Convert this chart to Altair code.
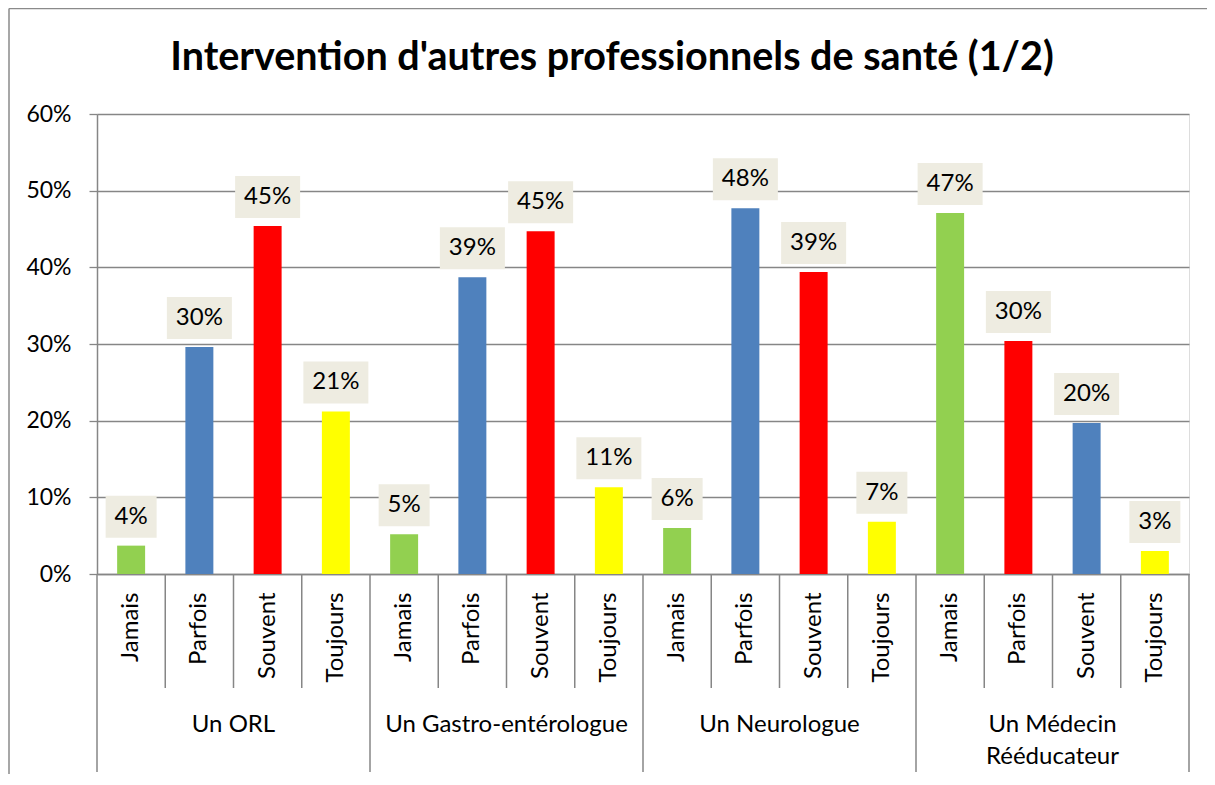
import altair as alt
import pandas as pd

# ---- data ----
groupes = ["Un ORL", "Un Gastro-entérologue", "Un Neurologue", "Un Médecin\nRééducateur"]
reponses = ["Jamais", "Parfois", "Souvent", "Toujours"]
valeurs_orl = [3.7, 29.6, 45.4, 21.2]
valeurs_gastro = [5.2, 38.7, 44.7, 11.3]
valeurs_neuro = [6.0, 47.7, 39.4, 6.8]
valeurs_medecin = [47.1, 30.4, 19.7, 3.0]
series_orl = ["vert", "bleu", "rouge", "jaune"]
series_gastro = ["vert", "bleu", "rouge", "jaune"]
series_neuro = ["vert", "bleu", "rouge", "jaune"]
series_medecin = ["vert", "rouge", "bleu", "jaune"]
graduations = [0, 10, 20, 30, 40, 50, 60]
titre = "Intervention d'autres professionnels de santé (1/2)"

rows = []
for g, vals, sers in zip(
    groupes,
    [valeurs_orl, valeurs_gastro, valeurs_neuro, valeurs_medecin],
    [series_orl, series_gastro, series_neuro, series_medecin],
):
    for r, v, s in zip(reponses, vals, sers):
        rows.append({"groupe": g, "reponse": r, "cle": g + "|" + r, "valeur": v, "serie": s})
df = pd.DataFrame(rows)
ordre = list(df["cle"])

FONT = "Lato"
GRIS = "#868686"
W, H = 1092, 460

xscale = alt.Scale(paddingInner=0, paddingOuter=0)
x_axis = alt.Axis(
    title=None,
    labelExpr="split(datum.label, '|')[1]",
    labelAngle=-90,
    ticks=False,
    labelPadding=18,
    labelFont=FONT,
    labelFontSize=24,
    labelColor="#000000",
    domainColor=GRIS,
    domainWidth=1.5,
    grid=False,
    labelLimit=0,
)
x = alt.X("cle:N", sort=ordre, scale=xscale, axis=x_axis)
y = alt.Y(
    "valeur:Q",
    scale=alt.Scale(domain=[0, 60], nice=False),
    axis=alt.Axis(
        title=None,
        values=graduations,
        labelExpr="datum.value + '%'",
        grid=True,
        gridColor=GRIS,
        gridWidth=1.3,
        tickSize=8,
        tickColor=GRIS,
        tickWidth=1.3,
        domainColor=GRIS,
        domainWidth=1.5,
        labelPadding=18,
        labelFont=FONT,
        labelFontSize=23,
        labelColor="#000000",
    ),
)

base = alt.Chart(df)

bars = base.mark_bar(width=alt.RelativeBandSize(0.41)).encode(
    x=x,
    y=y,
    color=alt.Color(
        "serie:N",
        scale=alt.Scale(
            domain=["vert", "bleu", "rouge", "jaune"],
            range=["#92D050", "#4F81BD", "#FF0000", "#FFFF00"],
        ),
        legend=None,
    ),
)

etiq = base.transform_calculate(
    etiquette="round(datum.valeur) + '%'",
    forme="length(round(datum.valeur) + '%') < 3 ? 'M-1.214,-2.381H1.214V-0.381H-1.214Z' : 'M-1.548,-2.381H1.548V-0.381H-1.548Z'",
)

boites = etiq.mark_point(filled=True, size=1764, color="#EEECE1", opacity=1, strokeWidth=0).encode(
    x=x, y=y, shape=alt.Shape("forme:N", scale=None)
)

textes = etiq.mark_text(dy=-29, font=FONT, fontSize=24, color="#000000", baseline="middle", align="center").encode(
    x=x, y=y, text="etiquette:N"
)

sep_interne = base.transform_filter("datum.reponse != 'Jamais'").mark_rule(color=GRIS, strokeWidth=1.5).encode(
    x=alt.X("cle:N", sort=ordre, scale=xscale, axis=x_axis, bandPosition=0),
    y=alt.value(H),
    y2=alt.value(574),
)
sep_groupe = base.transform_filter("datum.reponse == 'Jamais'").mark_rule(color=GRIS, strokeWidth=1.5).encode(
    x=alt.X("cle:N", sort=ordre, scale=xscale, axis=x_axis, bandPosition=0),
    y=alt.value(H),
    y2=alt.value(658),
)
sep_fin = base.transform_filter(alt.datum.cle == ordre[-1]).mark_rule(color=GRIS, strokeWidth=1.5).encode(
    x=alt.X("cle:N", sort=ordre, scale=xscale, axis=x_axis, bandPosition=1),
    y=alt.value(H),
    y2=alt.value(658),
)

noms_groupes = base.transform_filter("datum.reponse == 'Parfois'").mark_text(
    font=FONT, fontSize=24, color="#000000", baseline="alphabetic", align="center", lineBreak="\n", lineHeight=32
).encode(
    x=alt.X("cle:N", sort=ordre, scale=xscale, axis=x_axis, bandPosition=1),
    y=alt.value(618),
    text="groupe:N",
)

cadre_df = pd.DataFrame({"z": [0]})
cadre_gauche = alt.Chart(cadre_df).mark_rule(color="#8a8a8a", strokeWidth=1.5).encode(
    x=alt.value(-88), y=alt.value(-105.5), y2=alt.value(680)
)
cadre_haut = alt.Chart(cadre_df).mark_rule(color="#8a8a8a", strokeWidth=1.5).encode(
    x=alt.value(-88), x2=alt.value(1112), y=alt.value(-105.5)
)

titre_df = pd.DataFrame({"titre": [titre]})
titre_mark = alt.Chart(titre_df).mark_text(
    font=FONT, fontSize=39.5, fontWeight="bold", color="#000000", align="center", baseline="alphabetic"
).encode(x=alt.value(515), y=alt.value(-44.5), text="titre:N")

chart = (
    alt.layer(bars, boites, textes, sep_interne, sep_groupe, sep_fin, noms_groupes, cadre_gauche, cadre_haut, titre_mark)
    .properties(
        width=W,
        height=H,
        padding={"left": 89, "top": 106, "right": 18, "bottom": 200},
        autosize=alt.AutoSizeParams(type="none"),
    )
    .configure_view(stroke=None)
    .configure(background="white")
)

chart.save("out.html", embed_options={"renderer": "svg", "actions": False})
